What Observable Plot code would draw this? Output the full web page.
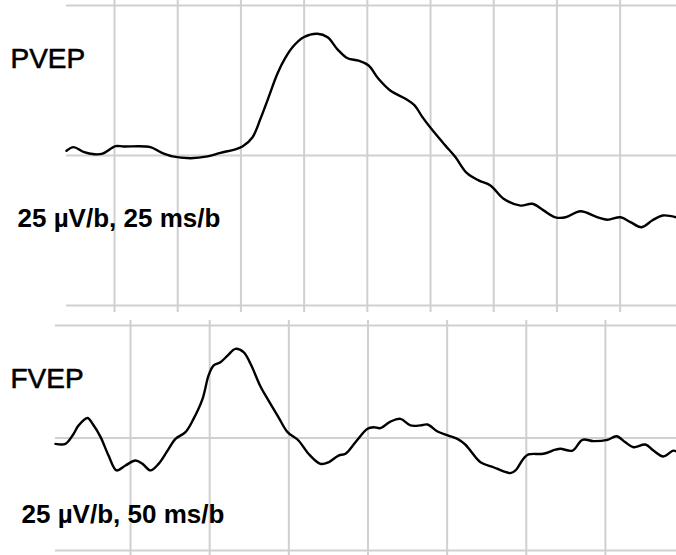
<!DOCTYPE html>
<html>
<head>
<meta charset="utf-8">
<script src="https://cdn.jsdelivr.net/npm/d3@7"></script>
<script src="https://cdn.jsdelivr.net/npm/@observablehq/plot@0.6"></script>
<style>
  html, body { margin: 0; padding: 0; background: #fff; }
  #wrap { position: relative; width: 676px; height: 555px; overflow: hidden; }
  #top, #bottom { position: absolute; left: 0; }
  #top { top: 0; }
  #bottom { top: 320px; }
  svg { display: block; }
</style>
</head>
<body>
<div id="wrap"><div id="top"></div><div id="bottom"></div></div>
<script>
// Pattern-reversal VEP (25 µV/div, 25 ms/div)
const pvepTime = [6.0, 8.8, 12.7, 17.1, 20.3, 25.4, 28.6, 39.2, 43.2, 47.9, 55.1, 61.8, 66.9, 72.1, 75.6, 79.6, 82.8, 85.5, 89.5, 92.6, 95.4, 99.8, 105.3, 109.3, 113.2, 117.2, 121.5, 125.5, 129.4, 134.2, 140.1, 143.7, 146.8, 150.8, 155.9, 159.9, 164.2, 169.0, 173.7, 178.9, 185.6, 190.3, 194.7, 199.4, 203.4, 209.3, 216.1, 220.0, 225.2, 229.1, 233.5, 237.8, 241.8, 247.3];
const pvepAmp = [0.8, 1.4, 0.6, 0.2, 0.3, 1.55, 1.5, 1.4, 0.55, -0.15, -0.45, -0.15, 0.45, 0.95, 1.5, 3.05, 6.2, 9.2, 13.7, 16.3, 18.05, 19.7, 20.3, 19.7, 17.7, 16.2, 15.8, 15.0, 12.8, 10.8, 9.45, 8.35, 6.4, 4.2, 1.65, -0.3, -2.85, -4.15, -5.0, -7.2, -8.35, -8.05, -9.15, -10.3, -10.3, -9.3, -10.3, -10.7, -10.3, -11.1, -11.95, -10.8, -10.0, -10.3];
const pvepTimeDomain = [6.0, 247.3];
const pvepTimeGrid = [25, 50, 75, 100, 125, 150, 175, 200, 225];

// Flash VEP (25 µV/div, 50 ms/div)
const fvepTime = [2.6, 8.9, 14.0, 17.2, 22.8, 26.0, 31.1, 36.1, 41.2, 46.8, 53.2, 57.6, 62.6, 67.7, 73.4, 78.4, 84.7, 89.8, 95.5, 99.3, 102.4, 106.8, 111.3, 116.3, 121.4, 125.8, 132.1, 137.2, 143.5, 149.2, 156.1, 162.4, 170.0, 175.1, 181.4, 185.8, 192.1, 199.7, 203.5, 207.9, 214.2, 220.5, 226.8, 233.2, 237.6, 243.9, 250.8, 256.5, 261.6, 264.7, 271.1, 279.3, 285.6, 290.0, 293.2, 298.2, 301.4, 310.8, 318.4, 321.6, 329.2, 335.5, 342.4, 351.3, 357.0, 362.6, 367.7, 375.3, 380.3, 386.6, 392.9, 394.9];
const fvepAmp = [-1.3, -1.3, 0.9, 2.8, 4.45, 3.15, 0.2, -3.9, -7.2, -6.1, -5.0, -5.75, -7.2, -5.75, -2.8, -0.2, 1.3, 4.25, 8.7, 13.9, 16.1, 16.85, 18.3, 19.8, 19.1, 16.5, 11.45, 8.3, 4.6, 1.3, -0.55, -3.5, -5.75, -5.4, -3.9, -3.5, -0.95, 2.05, 2.4, 2.2, 3.65, 4.25, 2.8, 2.8, 3.0, 1.45, 0.55, -0.2, -1.5, -2.8, -5.4, -6.5, -7.4, -7.8, -7.2, -4.6, -3.65, -3.5, -2.6, -2.4, -2.8, -0.4, -0.7, -0.4, 0.4, -0.95, -2.05, -1.45, -2.8, -4.1, -2.8, -3.0];
const fvepTimeDomain = [2.6, 394.9];
const fvepTimeGrid = [50, 100, 150, 200, 250, 300, 350];

const ampGrid = [-25, 0, 25];
const ampDomain = [-25, 25];

const panelNames = ["PVEP", "FVEP"];
const scaleLabels = ["25 µV/b, 25 ms/b", "25 µV/b, 50 ms/b"];

const gridColor = "#d0d0d0";
const font = "'Liberation Sans', Arial, Helvetica, sans-serif";

function panel({time, amp, timeDomain, timeGrid, name, scaleLabel, height, marginLeft, yRange, nameDx, nameDy, labelDx, labelDy}) {
  const pts = time.map((t, i) => ({t, v: amp[i]}));
  return Plot.plot({
    width: 676,
    height,
    marginLeft,
    marginRight: 0,
    marginTop: 0,
    marginBottom: 0,
    style: {fontFamily: font, background: "#fff"},
    x: {domain: timeDomain, axis: null},
    y: {domain: ampDomain, range: yRange, axis: null},
    marks: [
      Plot.ruleX(timeGrid, {stroke: gridColor, strokeWidth: 2}),
      Plot.ruleY(ampGrid, {stroke: gridColor, strokeWidth: 2}),
      Plot.line(pts, {x: "t", y: "v", stroke: "#000", strokeWidth: 2.4, curve: "catmull-rom"}),
      Plot.text([name], {text: d => d, frameAnchor: "top-left", textAnchor: "start", lineAnchor: "bottom",
        dx: nameDx, dy: nameDy, fontSize: 28, fill: "#000", stroke: "#000", strokeWidth: 0.6,
        style: "letter-spacing:1.5px"}),
      Plot.text([scaleLabel], {text: d => d, frameAnchor: "top-left", textAnchor: "start", lineAnchor: "bottom",
        dx: labelDx, dy: labelDy, fontSize: 26, fontWeight: "bold", fill: "#000"})
    ]
  });
}

document.getElementById("top").appendChild(panel({
  time: pvepTime, amp: pvepAmp, timeDomain: pvepTimeDomain, timeGrid: pvepTimeGrid,
  name: panelNames[0], scaleLabel: scaleLabels[0],
  height: 312, marginLeft: 66, yRange: [305, 5],
  nameDx: 10 - 66, nameDy: 67, labelDx: 17 - 66, labelDy: 226
}));

document.getElementById("bottom").appendChild(panel({
  time: fvepTime, amp: fvepAmp, timeDomain: fvepTimeDomain, timeGrid: fvepTimeGrid,
  name: panelNames[1], scaleLabel: scaleLabels[1],
  height: 235, marginLeft: 55, yRange: [230, 5],
  nameDx: 10 - 55, nameDy: 67, labelDx: 21 - 55, labelDy: 202
}));
</script>
</body>
</html>
